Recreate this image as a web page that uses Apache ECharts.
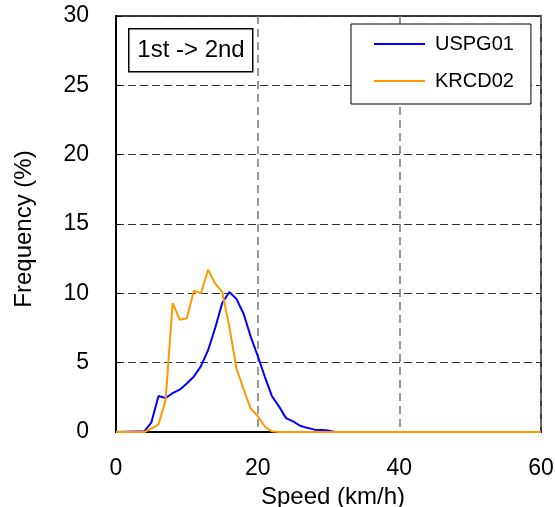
<!DOCTYPE html>
<html>
<head>
<meta charset="utf-8">
<script src="https://cdn.jsdelivr.net/npm/echarts@6/dist/echarts.min.js"></script>
<style>html,body{margin:0;padding:0;background:#fff;}#c{width:555px;height:507px;}</style>
</head>
<body>
<div id="c"></div>
<script>
// Data
var xTicks = [0, 20, 40, 60];
var yTicks = [0, 5, 10, 15, 20, 25, 30];
var seriesNames = ['USPG01', 'KRCD02'];

var uspgSpeed = [0, 4, 5, 6, 7, 8, 9, 10, 11, 12, 13, 14, 15, 16, 17, 18, 19, 20, 21, 22, 23, 24, 25, 26, 27, 28, 29, 30, 31, 60];
var uspgFreq  = [0, 0.05, 0.7, 2.6, 2.45, 2.8, 3.05, 3.5, 4.0, 4.75, 5.9, 7.5, 9.3, 10.1, 9.6, 8.55, 6.9, 5.5, 4.0, 2.6, 1.85, 1.0, 0.77, 0.45, 0.3, 0.17, 0.15, 0.1, 0, 0];

var krcdSpeed = [0, 4, 5, 6, 7, 8, 9, 10, 11, 12, 13, 14, 15, 16, 17, 18, 19, 20, 21, 22, 23, 60];
var krcdFreq  = [0, 0, 0.25, 0.55, 2.3, 9.3, 8.1, 8.2, 10.2, 10.0, 11.7, 10.7, 10.1, 7.6, 4.6, 3.1, 1.7, 1.15, 0.4, 0.05, 0, 0];

function pairs(xs, ys) { return xs.map(function (x, i) { return [x, ys[i]]; }); }

var FONT = '"Liberation Sans", Arial, sans-serif';
var chart = echarts.init(document.getElementById('c'), null, {renderer: 'canvas'});
chart.setOption({
  animation: false,
  backgroundColor: '#fff',
  grid: {left: 116, right: 14, top: 16, bottom: 75, show: true, borderColor: '#000', borderWidth: 1.5, backgroundColor: 'transparent', outerBoundsMode: 'none', containLabel: false},
  xAxis: {
    type: 'value', min: xTicks[0], max: xTicks[xTicks.length - 1], interval: 20,
    name: 'Speed (km/h)', nameLocation: 'middle', nameGap: 43,
    nameTextStyle: {fontFamily: FONT, fontSize: 24, color: '#000', padding: [0, 0, 0, 9]},
    axisLine: {show: true, lineStyle: {color: '#000', width: 2}},
    axisTick: {show: false},
    axisLabel: {fontFamily: FONT, fontSize: 23, color: '#000', margin: 25},
    splitLine: {show: true, lineStyle: {color: '#777', width: 1.5, type: [8, 5]}}
  },
  yAxis: {
    type: 'value', min: yTicks[0], max: yTicks[yTicks.length - 1], interval: 5,
    name: 'Frequency (%)', nameLocation: 'middle', nameGap: 80, nameRotate: 90,
    nameTextStyle: {fontFamily: FONT, fontSize: 24, color: '#000', padding: [0, 10, 0, 0]},
    axisLine: {show: true, lineStyle: {color: '#000', width: 2}},
    axisTick: {show: true, inside: true, length: 5, lineStyle: {color: '#000', width: 1}},
    axisLabel: {fontFamily: FONT, fontSize: 23, color: '#000', margin: 27},
    splitLine: {show: true, lineStyle: {color: '#333', width: 1, type: [8, 4]}}
  },
  legend: {
    data: seriesNames,
    orient: 'vertical', left: 351, top: 24,
    backgroundColor: '#fff',
    borderColor: '#000', borderWidth: 1,
    padding: [10, 17, 13, 23],
    itemGap: 17, itemWidth: 51, itemHeight: 2,
    icon: 'rect',
    textStyle: {fontFamily: FONT, fontSize: 20, color: '#000', lineHeight: 20, padding: [0, 0, 0, 5]}
  },
  graphic: [
    {type: 'rect', left: 128, top: 28, shape: {width: 124, height: 43}, style: {fill: '#fff', stroke: '#000', lineWidth: 1.5}, z: 100},
    {type: 'text', x: 191, y: 50, style: {text: '1st -> 2nd', font: '24px "Liberation Sans", Arial, sans-serif', fill: '#000', align: 'center', verticalAlign: 'middle'}, z: 101}
  ],
  series: [
    {name: seriesNames[0], type: 'line', data: pairs(uspgSpeed, uspgFreq), symbol: 'none', lineStyle: {color: '#0000ff', width: 2}, itemStyle: {color: '#0000ff'}, z: 3},
    {name: seriesNames[1], type: 'line', data: pairs(krcdSpeed, krcdFreq), symbol: 'none', lineStyle: {color: '#ff9900', width: 2}, itemStyle: {color: '#ff9900'}, z: 4}
  ]
});
</script>
</body>
</html>
